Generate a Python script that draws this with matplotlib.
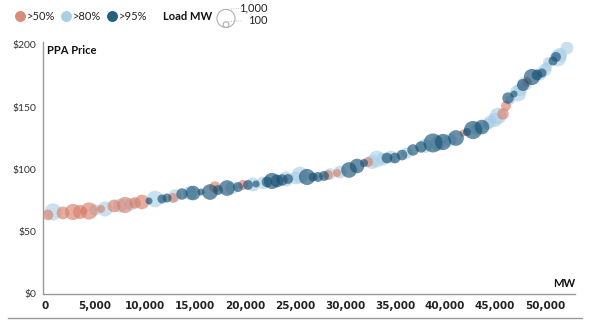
import matplotlib.pyplot as plt
import matplotlib.lines as mlines

# data
# each point: cumulative MW on the supply curve, PPA price ($/MWh), plant load (MW), tier
mw = [300, 800, 1800, 2800, 3500, 3900, 4400, 5000, 5600, 6000,
      6900, 8000, 8600, 9000, 9700, 10400, 11000, 11700, 12200, 12800,
      13700, 14500, 14800, 15600, 16500, 17000, 17300, 18200, 18700, 19300,
      19800, 20300, 21100, 21800, 22200, 22700, 23200, 23700, 24100, 24300,
      25100, 25500, 26200, 26800, 27300, 27900, 28300, 28500, 29200, 29500,
      30400, 31200, 31900, 32300, 32700, 33200, 33800, 34200, 35000, 35700,
      36200, 36800, 37600, 38000, 38800, 39800, 40500, 41100, 41800, 42200,
      42800, 43700, 44300, 44500, 45000, 45300, 45800, 46100, 46300, 46500,
      46900, 47300, 47500, 47800, 48200, 48700, 49200, 49500, 49700, 50200,
      50300, 50800, 51100, 51300, 51500, 52200,
      7500, 13000, 20800, 34600, 39300, 43200, 48000, 50000]
price = [63.5, 65.9, 65.1, 65.9, 65.9, 66.7, 66.7, 67.5, 68.3, 68.3,
         70.7, 71.5, 72.3, 73.1, 73.9, 74.7, 76.3, 76.3, 77.1, 77.1,
         80.3, 81.1, 81.1, 81.9, 81.9, 85.9, 83.5, 85.1, 85.1, 85.9,
         87.6, 87.6, 88.4, 89.2, 90.0, 90.8, 90.8, 91.6, 92.4, 92.4,
         93.2, 95.6, 94.0, 94.0, 94.0, 94.8, 95.6, 96.4, 97.2, 98.0,
         99.6, 102.8, 105.2, 106.0, 106.0, 108.4, 108.4, 109.2, 109.2, 111.6,
         113.3, 115.7, 118.1, 118.9, 121.3, 122.1, 123.7, 125.3, 129.3, 130.1,
         131.7, 134.1, 136.5, 138.2, 139.8, 143.0, 144.6, 151.0, 157.4, 155.8,
         160.6, 161.4, 163.9, 167.9, 170.3, 174.3, 175.9, 176.7, 177.5, 182.3,
         186.3, 187.1, 190.4, 189.6, 192.0, 197.6,
         71.0, 79.0, 88.0, 110.0, 121.0, 133.0, 169.0, 180.0]
load = [350, 900, 500, 800, 600, 150, 900, 400, 200, 700,
        500, 800, 500, 400, 650, 150, 850, 250, 250, 300,
        400, 600, 650, 150, 750, 400, 300, 750, 500, 300,
        300, 300, 150, 500, 350, 800, 500, 400, 700, 300,
        500, 850, 800, 250, 300, 300, 300, 400, 200, 500,
        750, 650, 200, 300, 600, 850, 500, 350, 350, 350,
        400, 400, 400, 600, 1100, 800, 500, 750, 150, 200,
        1000, 650, 400, 500, 600, 850, 400, 300, 400, 300,
        150, 850, 500, 450, 250, 800, 350, 500, 250, 300,
        300, 250, 300, 850, 600, 500,
        600, 500, 600, 500, 700, 500, 600, 500]
# 0 = >50%, 1 = >80%, 2 = >95%
tier = [0, 1, 0, 0, 0, 0, 0, 1, 0, 1,
        0, 0, 1, 0, 0, 2, 1, 2, 2, 0,
        2, 1, 2, 2, 2, 0, 2, 2, 1, 2,
        0, 2, 2, 1, 2, 2, 2, 2, 1, 2,
        1, 1, 2, 2, 2, 2, 0, 1, 0, 1,
        2, 2, 2, 0, 1, 1, 1, 2, 2, 2,
        1, 2, 2, 1, 2, 2, 1, 2, 0, 2,
        2, 2, 1, 1, 1, 1, 0, 0, 2, 1,
        2, 1, 1, 2, 0, 2, 2, 1, 2, 1,
        1, 2, 2, 1, 1, 1,
        1, 1, 1, 1, 1, 1, 1, 1]

tier_labels = [">50%", ">80%", ">95%"]
tier_colors = ["#d9806c", "#a6cde4", "#1a5376"]
tier_alpha = [0.65, 0.6, 0.65]
legend_colors = ["#d98b7c", "#a9cfe5", "#24607f"]

x_ticks = [0, 5000, 10000, 15000, 20000, 25000, 30000, 35000, 40000, 45000, 50000]
y_ticks = [0, 50, 100, 150, 200]
size_keys = [1000, 100]
size_scale = 0.17  # marker area (pt^2) per MW of load

fig = plt.figure(figsize=(6, 3.36), dpi=100)
ax = fig.add_axes([43/600, 1-294/336, (575-43)/600, (294-42)/336])

# draw light blue first, then red, then dark blue on top
for t in [1, 0, 2]:
    xs = [mw[i] for i in range(len(mw)) if tier[i] == t]
    ys = [price[i] for i in range(len(mw)) if tier[i] == t]
    ss = [load[i]*size_scale for i in range(len(mw)) if tier[i] == t]
    ax.scatter(xs, ys, s=ss, color=tier_colors[t], alpha=tier_alpha[t], linewidths=0, zorder=3)

ax.set_xlim(-200, 53000)
ax.set_ylim(0, 202.4)
ax.set_xticks(x_ticks)
ax.set_xticklabels([f"{v:,}" for v in x_ticks], fontfamily="DejaVu Sans",
                   fontweight="bold", fontsize=7.5, color="#222")
ax.set_yticks(y_ticks)
ax.set_yticklabels([f"${v}" for v in y_ticks], fontfamily="Lato", fontsize=7.5, color="#333")
ax.tick_params(length=0, pad=5)
for side in ["top", "right"]:
    ax.spines[side].set_visible(False)
for side in ["left", "bottom"]:
    ax.spines[side].set_color("#999999")
    ax.spines[side].set_linewidth(1)

ax.text(0.008, 0.965, "PPA Price", transform=ax.transAxes, fontfamily="Lato",
        fontweight="bold", fontsize=8, ha="left", va="center", color="#111")
ax.text(1.0, 0.04, "MW", transform=ax.transAxes, fontfamily="Lato",
        fontweight="bold", fontsize=8, ha="right", va="center", color="#111")

# overlay in pixel units for the legend and the bottom rule
ov = fig.add_axes([0, 0, 1, 1])
ov.set_xlim(0, 600)
ov.set_ylim(336, 0)
ov.axis("off")

legend_x = [20, 66, 112]
for t in range(3):
    ov.scatter(legend_x[t], 16, s=62, color=legend_colors[t], linewidths=0)
    ov.text(legend_x[t] + 7, 16.5, tier_labels[t], fontfamily="Lato", fontsize=8,
            ha="left", va="center", color="#222")
ov.text(163, 16.5, "Load MW", fontfamily="Lato", fontweight="bold", fontsize=8,
        ha="left", va="center", color="#111")

# size key: circles sit on a common baseline
base_y = 27.5
label_y = [8, 21]
for k, ly in zip(size_keys, label_y):
    r_px = (k*size_scale) ** 0.5 / 72 * 100 / 2
    ov.scatter(226, base_y - r_px, s=k*size_scale, facecolors="none",
               edgecolors="#b0b0b0", linewidths=0.8)
    ty = base_y - 2*r_px
    ov.add_line(mlines.Line2D([226, 243], [ty, ly], color="#c0c0c0", lw=0.7, ls=(0, (1, 1.5))))
    ov.text(268, ly, f"{k:,}", fontfamily="Lato", fontsize=8, ha="right", va="center", color="#222")

ov.add_line(mlines.Line2D([8, 582], [318, 318], color="#999999", lw=1))

fig.savefig("out.png", dpi=100)
